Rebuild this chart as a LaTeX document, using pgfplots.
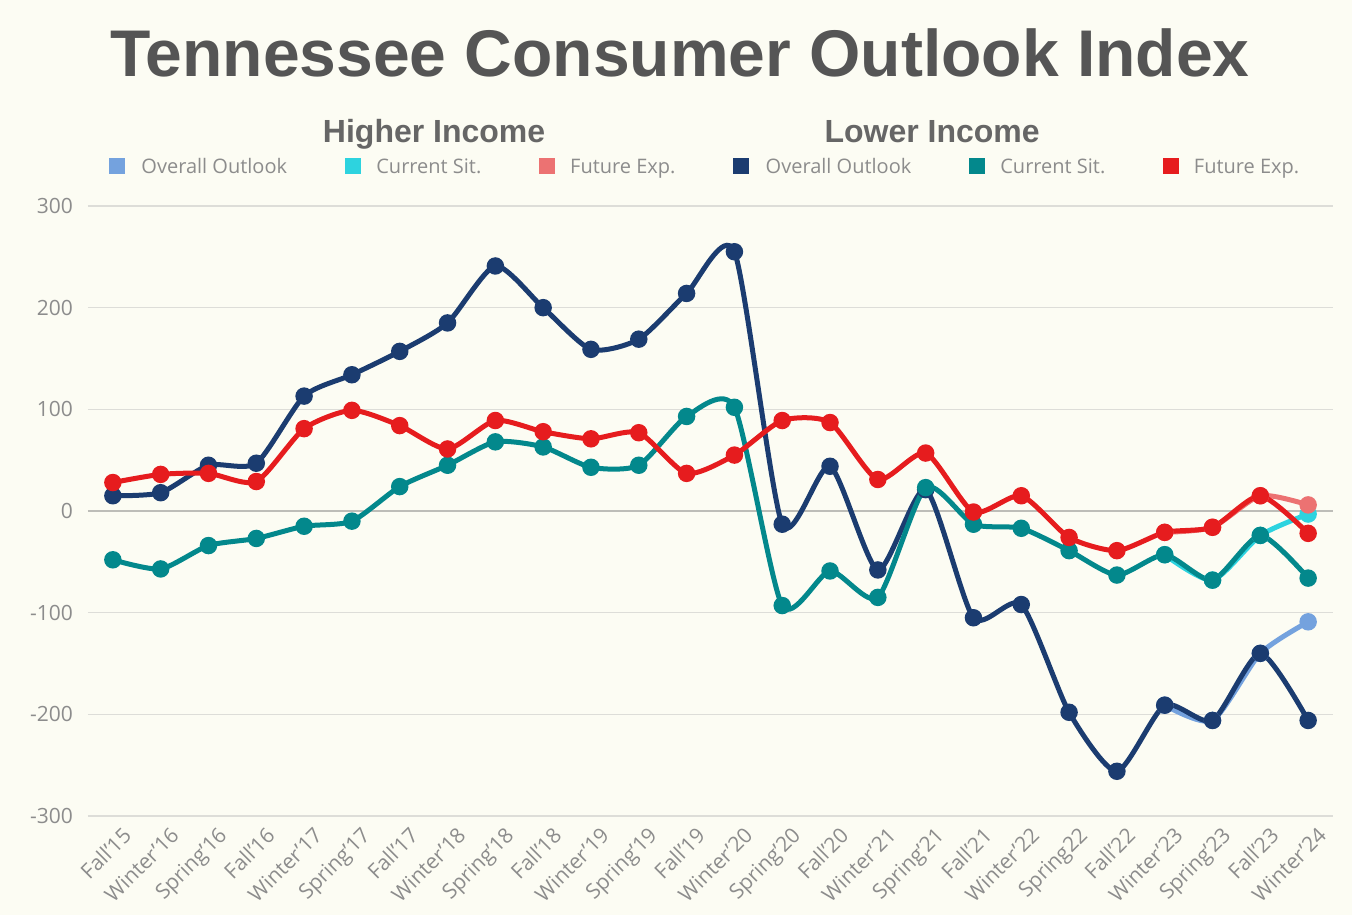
\documentclass[border=0pt]{standalone}
\usepackage{pgfplots}
\pgfplotsset{compat=1.18}
\usepackage{fontspec}
\setmainfont{Open Sans}
\newfontfamily\headfont{Liberation Sans}

\definecolor{bgc}{HTML}{FCFCF3}
\definecolor{titlec}{HTML}{555555}
\definecolor{textc}{HTML}{8C8C8C}
\definecolor{gridc}{HTML}{DDDDD8}
\definecolor{zeroc}{HTML}{BDBDB8}
\definecolor{navy}{HTML}{1B3C70}
\definecolor{teal}{HTML}{03888C}
\definecolor{redl}{HTML}{E61C1E}
\definecolor{lblue}{HTML}{74A2DE}
\definecolor{cyanl}{HTML}{2DD3DF}
\definecolor{pinkl}{HTML}{EC7272}

\begin{document}
\begin{tikzpicture}
\path[use as bounding box, fill=bgc] (-44pt,-49.5pt) rectangle (632pt,408pt);
\begin{axis}[at={(0,0)}, anchor=south west,
scale only axis,
width=622.5pt,
height=305pt,
xmin=-0.52, xmax=25.52,
ymin=-300, ymax=300,
ytick={-300,-200,-100,0,100,200,300},
xtick={0,...,25},
xticklabels={Fall'15,Winter'16,Spring'16,Fall'16,Winter'17,Spring'17,Fall'17,Winter'18,Spring'18,Fall'18,Winter'19,Spring'19,Fall'19,Winter'20,Spring'20,Fall'20,Winter'21,Spring'21,Fall'21,Winter'22,Spring22,Fall'22,Winter'23,Spring'23,Fall'23,Winter'24},
axis line style={draw=none},
major tick length=0pt,
ymajorgrids,
grid style={gridc, line width=0.8pt},
/pgf/number format/assume math mode=true,
tick label style={font=\fontsize{10.5}{12}\selectfont, text=textc},
yticklabel style={xshift=-4pt},
xticklabel style={rotate=45, anchor=north east, xshift=3pt, yshift=-3pt},
every axis plot/.append style={line width=2.5pt, smooth, tension=0.4, mark=*, mark size=3.1pt, mark options={solid}},
clip=false]

\draw[zeroc, line width=0.8pt] (rel axis cs:0,0.5) -- (rel axis cs:1,0.5);

% higher income
\addplot[lblue] coordinates {(22,-191) (23,-206) (24,-140) (25,-109)};
\addplot[cyanl] coordinates {(22,-43) (23,-68) (24,-24) (25,-3)};
\addplot[pinkl] coordinates {(22,-21) (23,-16) (24,15) (25,6)};

% lower income
\addplot[navy] coordinates {
(0,15) (1,18) (2,45) (3,47) (4,113) (5,134) (6,157) (7,185) (8,241) (9,200)
(10,159) (11,169) (12,214) (13,255) (14,-13) (15,44) (16,-58) (17,21) (18,-105)
(19,-92) (20,-198) (21,-256) (22,-191) (23,-206) (24,-140) (25,-206)};
\addplot[teal] coordinates {
(0,-48) (1,-57) (2,-34) (3,-27) (4,-15) (5,-10) (6,24) (7,45) (8,68) (9,63)
(10,43) (11,45) (12,93) (13,102) (14,-93) (15,-59) (16,-85) (17,23) (18,-13)
(19,-17) (20,-39) (21,-63) (22,-43) (23,-68) (24,-24) (25,-66)};
\addplot[redl] coordinates {
(0,28) (1,36) (2,37) (3,29) (4,81) (5,99) (6,84) (7,61) (8,89) (9,78)
(10,71) (11,77) (12,37) (13,55) (14,89) (15,87) (16,31) (17,57) (18,-1)
(19,15) (20,-26) (21,-39) (22,-21) (23,-16) (24,15) (25,-22)};

% title and legend
\node[font=\headfont\bfseries\fontsize{33}{36}\selectfont, text=titlec, anchor=base] at (rel axis cs:0.4755,1.213) {Tennessee Consumer Outlook Index};
\node[font=\headfont\bfseries\fontsize{16}{18}\selectfont, text=titlec!90, anchor=base] at (rel axis cs:0.278,1.104) {Higher Income};
\node[font=\headfont\bfseries\fontsize{16}{18}\selectfont, text=titlec!90, anchor=base] at (rel axis cs:0.678,1.104) {Lower Income};
\fill[lblue] (rel axis cs:0.0233,1.066) ++(-4pt,-4pt) rectangle ++(8pt,8pt);
\fill[cyanl] (rel axis cs:0.2129,1.066) ++(-4pt,-4pt) rectangle ++(8pt,8pt);
\fill[pinkl] (rel axis cs:0.3687,1.066) ++(-4pt,-4pt) rectangle ++(8pt,8pt);
\fill[navy] (rel axis cs:0.5245,1.066) ++(-4pt,-4pt) rectangle ++(8pt,8pt);
\fill[teal] (rel axis cs:0.714,1.066) ++(-4pt,-4pt) rectangle ++(8pt,8pt);
\fill[redl] (rel axis cs:0.870,1.066) ++(-4pt,-4pt) rectangle ++(8pt,8pt);
\begin{scope}[every node/.style={anchor=base west, inner sep=0pt, font=\fontsize{10}{12}\selectfont, text=textc}]
\node at (rel axis cs:0.0426,1.054) {Overall Outlook};
\node at (rel axis cs:0.2313,1.054) {Current Sit.};
\node at (rel axis cs:0.387,1.054) {Future Exp.};
\node at (rel axis cs:0.544,1.054) {Overall Outlook};
\node at (rel axis cs:0.7325,1.054) {Current Sit.};
\node at (rel axis cs:0.888,1.054) {Future Exp.};
\end{scope}
\end{axis}
\end{tikzpicture}
\end{document}
